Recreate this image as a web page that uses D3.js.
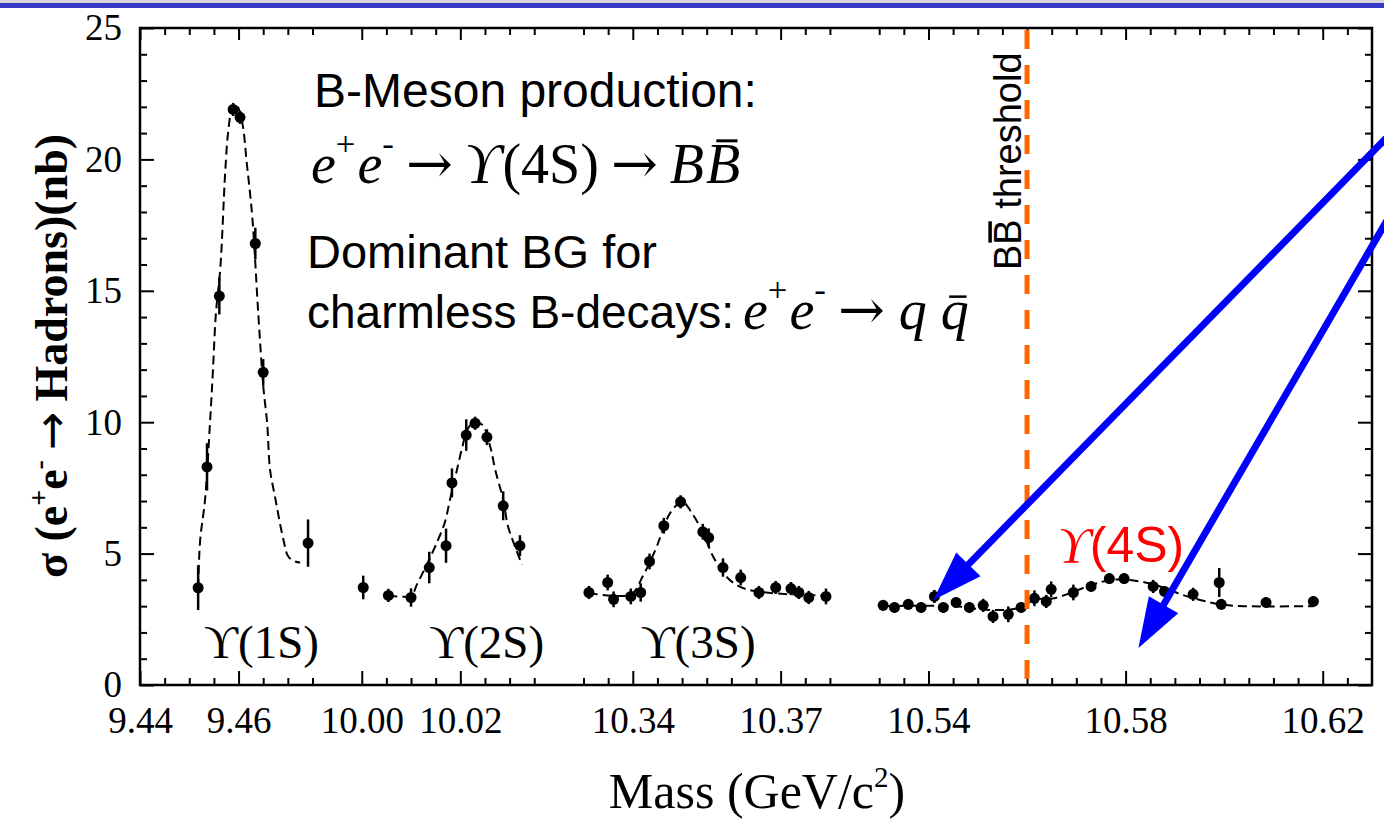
<!DOCTYPE html>
<html>
<head>
<meta charset="utf-8">
<script src="https://cdn.jsdelivr.net/npm/d3@7"></script>
<style>
  body { margin: 0; background: #fff; }
  svg { display: block; }
</style>
</head>
<body>
<svg id="chart"></svg>
<script>
// broken mass axis: each piece is [from, to] in GeV/c^2
const segments = [[9.44, 9.48], [9.995, 10.04], [10.325, 10.385], [10.525, 10.63]];
const massTickStep = 0.005;
const massLabels = [9.44, 9.46, 10.00, 10.02, 10.34, 10.37, 10.54, 10.58, 10.62];
const sigmaLabels = [0, 5, 10, 15, 20, 25];
const thresholdMass = 10.56;

// Upsilon(1S)
const mass1S = [9.4518, 9.4536, 9.4561, 9.4589, 9.4603, 9.4634, 9.4650, 9.4741];
const sigma1S = [3.7, 8.3, 14.8, 21.9, 21.6, 16.8, 11.9, 5.4];
const err1S = [0.85, 0.9, 0.7, 0.25, 0.25, 0.6, 0.5, 0.9];
const fitMass1S = [9.4518, 9.4522, 9.4532, 9.4542, 9.4548, 9.4554, 9.4563, 9.4573, 9.4579, 9.4587, 9.4595,
  9.4607, 9.4617, 9.4628, 9.4640, 9.4650, 9.4658, 9.4664, 9.4674, 9.4691, 9.4701, 9.4715, 9.4725];
const fitSigma1S = [3.7, 5.5, 7.05, 9.96, 11.97, 14.13, 15.87, 19.55, 21.06, 21.93, 22.1,
  21.44, 19.8, 17.77, 14.13, 11.4, 9.96, 8.18, 7.16, 5.53, 4.89, 4.70, 4.66];

// Upsilon(2S)
const mass2S = [10.0003, 10.0054, 10.0100, 10.0137, 10.0171, 10.0183, 10.0212, 10.0230, 10.0254, 10.0287, 10.0321];
const sigma2S = [3.71, 3.41, 3.33, 4.47, 5.30, 7.69, 9.51, 9.96, 9.43, 6.82, 5.30];
const err2S = [0.45, 0.25, 0.35, 0.6, 0.65, 0.55, 0.6, 0.25, 0.3, 0.55, 0.4];
const fitMass2S = [10.0054, 10.0100, 10.0112, 10.0135, 10.0155, 10.0169, 10.0179, 10.0194, 10.0204,
  10.0214, 10.0227, 10.0245, 10.0261, 10.0271, 10.0287, 10.0297, 10.0311, 10.0325];
const fitSigma2S = [3.41, 3.40, 3.83, 4.70, 5.53, 6.21, 7.05, 8.26, 9.05, 9.70, 10.0, 9.89, 9.05, 8.18,
  7.05, 6.02, 5.27, 4.58];

// Upsilon(3S)
const mass3S = [10.3311, 10.3349, 10.3361, 10.3396, 10.3416, 10.3434, 10.3463, 10.3497, 10.3542, 10.3554,
  10.3583, 10.3619, 10.3656, 10.3690, 10.3721, 10.3737, 10.3757, 10.3792];
const sigma3S = [3.52, 3.90, 3.26, 3.37, 3.52, 4.70, 6.06, 6.97, 5.83, 5.61, 4.47, 4.09, 3.52, 3.71, 3.67,
  3.52, 3.33, 3.37];
const err3S = [0.25, 0.3, 0.3, 0.3, 0.35, 0.3, 0.3, 0.25, 0.3, 0.35, 0.35, 0.3, 0.25, 0.25, 0.25, 0.25, 0.25, 0.3];
const fitMass3S = [10.3311, 10.3396, 10.3420, 10.3446, 10.3456, 10.3476, 10.3500, 10.3522, 10.3542,
  10.3563, 10.3583, 10.3603, 10.3631, 10.3680, 10.3792];
const fitSigma3S = [3.50, 3.45, 4.13, 5.15, 5.64, 6.55, 6.97, 6.48, 5.80, 4.89, 4.28, 3.90, 3.64, 3.50, 3.40];

// Upsilon(4S) region
const mass4S = [10.5308, 10.5331, 10.5359, 10.5385, 10.5412, 10.5430, 10.5456, 10.5483, 10.5511, 10.5531,
  10.5562, 10.5588, 10.5615, 10.5639, 10.5649, 10.5694, 10.5730, 10.5767, 10.5797, 10.5856, 10.5879,
  10.5937, 10.5990, 10.5994, 10.6085, 10.6181];
const sigma4S = [3.03, 2.95, 3.07, 2.95, 3.37, 2.95, 3.14, 2.95, 3.03, 2.61, 2.69, 2.95, 3.30, 3.18, 3.64,
  3.52, 3.75, 4.05, 4.05, 3.75, 3.56, 3.45, 3.90, 3.07, 3.14, 3.18];
const err4S = [0.2, 0.2, 0.2, 0.2, 0.25, 0.2, 0.2, 0.2, 0.25, 0.25, 0.3, 0.2, 0.3, 0.25, 0.3, 0.3, 0.2,
  0.2, 0.2, 0.25, 0.2, 0.25, 0.55, 0.2, 0.2, 0.2];
const fitMass4S = [10.5308, 10.5450, 10.5531, 10.5588, 10.5615, 10.5655, 10.5730, 10.5770, 10.5806,
  10.5840, 10.5870, 10.5920, 10.5970, 10.6000, 10.6040, 10.6181];
const fitSigma4S = [3.00, 3.00, 2.85, 2.95, 3.25, 3.30, 3.80, 4.00, 4.00, 3.90, 3.75, 3.40, 3.15, 3.05,
  3.00, 3.00];

const W = 1384, H = 822;
const plot = { left: 140, right: 1372, top: 28, bottom: 685 };

const svg = d3.select('#chart').attr('width', W).attr('height', H);

// header strip
svg.append('rect').attr('x', 0).attr('y', 0).attr('width', W).attr('height', 3).attr('fill', '#d6d6d6');
svg.append('rect').attr('x', 0).attr('y', 3).attr('width', W).attr('height', 5).attr('fill', '#3a3ac8');

// one linear scale per axis piece, widths proportional to the mass span
const totalSpan = d3.sum(segments, s => s[1] - s[0]);
let cursor = plot.left;
const segScales = segments.map(([a, b]) => {
  const w = (b - a) / totalSpan * (plot.right - plot.left);
  const s = d3.scaleLinear().domain([a, b]).range([cursor, cursor + w]);
  cursor += w;
  return s;
});
function x(m) {
  const s = segScales.find(sc => m >= sc.domain()[0] - 1e-9 && m <= sc.domain()[1] + 1e-9);
  return s(m);
}
const y = d3.scaleLinear().domain([0, 25]).range([plot.bottom, plot.top]);

const serif = '"Liberation Serif", "DejaVu Serif", serif';
const sans = '"Liberation Sans", Arial, sans-serif';

function styleAxis(g) {
  g.select('.domain').remove();
  g.selectAll('line').attr('stroke', '#000').attr('stroke-width', 2);
  g.selectAll('text').attr('fill', '#000').style('font-family', serif).style('font-size', '37px');
}

// mass axis ticks, bottom and top
segScales.forEach(s => {
  const [a, b] = s.domain();
  const inner = d3.range(Math.round(a / massTickStep) + 1, Math.round(b / massTickStep))
    .map(k => +(k * massTickStep).toFixed(3));
  const majors = massLabels.filter(m => m >= a - 1e-9 && m < b);
  const minors = inner.filter(v => !majors.some(m => Math.abs(m - v) < 1e-6));

  svg.append('g').attr('transform', `translate(0,${plot.bottom})`)
    .call(d3.axisBottom(s).tickValues(majors).tickSizeInner(-14).tickSizeOuter(0).tickPadding(22)
      .tickFormat(d3.format('.2f')))
    .call(styleAxis);
  svg.append('g').attr('transform', `translate(0,${plot.bottom})`)
    .call(d3.axisBottom(s).tickValues(minors).tickSizeInner(-7).tickSizeOuter(0).tickFormat(''))
    .call(styleAxis);
  svg.append('g').attr('transform', `translate(0,${plot.top})`)
    .call(d3.axisTop(s).tickValues(majors).tickSizeInner(-12).tickSizeOuter(0).tickFormat(''))
    .call(styleAxis);
  svg.append('g').attr('transform', `translate(0,${plot.top})`)
    .call(d3.axisTop(s).tickValues(minors).tickSizeInner(-7).tickSizeOuter(0).tickFormat(''))
    .call(styleAxis);
});

// cross-section axis ticks, left and right
const sigmaMinor = d3.range(0, 26).filter(v => v % 5 !== 0);
svg.append('g').attr('transform', `translate(${plot.left},0)`)
  .call(d3.axisLeft(y).tickValues(sigmaLabels).tickSizeInner(-14).tickSizeOuter(0).tickPadding(18))
  .call(styleAxis);
svg.append('g').attr('transform', `translate(${plot.left},0)`)
  .call(d3.axisLeft(y).tickValues(sigmaMinor).tickSizeInner(-7).tickSizeOuter(0).tickFormat(''))
  .call(styleAxis);
svg.append('g').attr('transform', `translate(${plot.right},0)`)
  .call(d3.axisRight(y).tickValues(sigmaLabels).tickSizeInner(-14).tickSizeOuter(0).tickFormat(''))
  .call(styleAxis);
svg.append('g').attr('transform', `translate(${plot.right},0)`)
  .call(d3.axisRight(y).tickValues(sigmaMinor).tickSizeInner(-7).tickSizeOuter(0).tickFormat(''))
  .call(styleAxis);

svg.append('rect')
  .attr('x', plot.left).attr('y', plot.top)
  .attr('width', plot.right - plot.left).attr('height', plot.bottom - plot.top)
  .attr('fill', 'none').attr('stroke', '#000').attr('stroke-width', 2.5);

// fitted line shapes
const fitLine = d3.line().x(d => x(d[0])).y(d => y(d[1])).curve(d3.curveCatmullRom);
[[fitMass1S, fitSigma1S], [fitMass2S, fitSigma2S], [fitMass3S, fitSigma3S], [fitMass4S, fitSigma4S]]
  .forEach(([ms, ss]) => {
    svg.append('path')
      .datum(ms.map((m, i) => [m, ss[i]]))
      .attr('d', fitLine)
      .attr('fill', 'none').attr('stroke', '#000').attr('stroke-width', 2)
      .attr('stroke-dasharray', '9,5');
  });

// measured points with error bars
const measured = [[mass1S, sigma1S, err1S], [mass2S, sigma2S, err2S], [mass3S, sigma3S, err3S], [mass4S, sigma4S, err4S]];
measured.forEach(([ms, ss, es]) => {
  const pts = ms.map((m, i) => ({ m, s: ss[i], e: es[i] }));
  const g = svg.append('g');
  g.selectAll('line').data(pts).join('line')
    .attr('x1', d => x(d.m)).attr('x2', d => x(d.m))
    .attr('y1', d => y(d.s - d.e)).attr('y2', d => y(d.s + d.e))
    .attr('stroke', '#000').attr('stroke-width', 2.5);
  g.selectAll('circle').data(pts).join('circle')
    .attr('cx', d => x(d.m)).attr('cy', d => y(d.s)).attr('r', 5.5)
    .attr('fill', '#000');
});

// resonance names
[['ϒ(1S)', 9.4530], ['ϒ(2S)', 10.0137], ['ϒ(3S)', 10.3416]].forEach(([t, m]) => {
  svg.append('text').attr('x', x(m)).attr('y', 658)
    .style('font-family', serif).style('font-size', '47px').attr('fill', '#000').text(t);
});

// threshold marker
const xThr = x(thresholdMass);
svg.append('line')
  .attr('x1', xThr).attr('x2', xThr).attr('y1', plot.top + 2).attr('y2', plot.bottom + 4)
  .attr('stroke', '#ff6600').attr('stroke-width', 5).attr('stroke-dasharray', '19,16');

const thr = svg.append('g').attr('transform', `translate(${xThr - 6},270) rotate(-90)`);
const thrText = thr.append('text')
  .style('font-family', sans).style('font-size', '38px').attr('fill', '#000').text('BB threshold');
const barB = thrText.node().getExtentOfChar(1);
thr.append('rect').attr('x', barB.x + 2).attr('y', -38 * 0.86)
  .attr('width', barB.width - 4).attr('height', 3.5).attr('fill', '#000');

// math helper: pieces of [text, italic, superscript, gap before, font family]
function formula(xPos, yPos, size, pieces) {
  const t = svg.append('text').attr('x', xPos).attr('y', yPos)
    .style('font-family', serif).style('font-size', size + 'px').attr('fill', '#000');
  const lift = size * 0.5;
  let raised = false;
  pieces.forEach(([txt, ital, sup, gap, fam]) => {
    const sp = t.append('tspan').text(txt);
    if (ital) sp.style('font-style', 'italic');
    if (fam) sp.style('font-family', fam);
    let dy = 0;
    if (sup && !raised) { dy = -lift; raised = true; }
    if (!sup && raised) { dy = lift; raised = false; }
    if (dy) sp.attr('dy', dy);
    if (sup) sp.style('font-size', (size * 0.62) + 'px');
    if (gap) sp.attr('dx', gap);
  });
  return t;
}
// bar over one glyph, placed a given fraction of the font size above the baseline
function overbar(t, idx, baseY, size, heightEm, thick) {
  const e = t.node().getExtentOfChar(idx);
  svg.append('rect').attr('x', e.x + e.width * 0.3).attr('y', baseY - size * heightEm)
    .attr('width', e.width * 0.62).attr('height', thick).attr('fill', '#000');
}
const arrowFont = '"DejaVu Serif", serif';

svg.append('text').attr('x', 314).attr('y', 107)
  .style('font-family', sans).style('font-size', '48px').attr('fill', '#000').text('B-Meson production:');

const eq1 = formula(311, 183, 56, [
  ['e', true], ['+', false, true], ['e', true, false, 2], ['-', false, true],
  ['→', false, false, 12, arrowFont], ['ϒ', true, false, 12], ['(4S)', false, false, 2],
  ['→', false, false, 12, arrowFont], ['B', true, false, 12], ['B', true, false, 2]
]);
overbar(eq1, eq1.text().length - 1, 183, 56, 0.78, 3);

svg.append('text').attr('x', 307).attr('y', 268)
  .style('font-family', sans).style('font-size', '47px').attr('fill', '#000').text('Dominant BG for');
svg.append('text').attr('x', 307).attr('y', 328)
  .style('font-family', sans).style('font-size', '46px').attr('fill', '#000').text('charmless B-decays:');

const eq2 = formula(743, 329, 56, [
  ['e', true], ['+', false, true], ['e', true, false, 2], ['-', false, true],
  ['→', false, false, 12, arrowFont], ['q', true, false, 14], ['q', true, false, 14]
]);
overbar(eq2, eq2.text().length - 1, 329, 56, 0.6, 2.5);

// Upsilon(4S) tag
const tag = svg.append('text').attr('x', 1058).attr('y', 562).attr('fill', '#ff0000')
  .style('font-size', '50px');
tag.append('tspan').style('font-family', serif).style('font-style', 'italic').text('ϒ');
tag.append('tspan').style('font-family', sans).text('(4S)');

// pointer arrows
const arrows = [
  { mass: 10.541, sigma: 3.23, tailX: 1400, tailY: 124 },
  { mass: 10.5826, sigma: 1.41, tailX: 1400, tailY: 198 }
];
arrows.forEach(a => {
  const tx = x(a.mass), ty = y(a.sigma);
  const dx = a.tailX - tx, dy = a.tailY - ty, len = Math.hypot(dx, dy);
  const ux = dx / len, uy = dy / len;
  const headLen = 50, headHalf = 17;
  const bx = tx + ux * headLen, by = ty + uy * headLen;
  svg.append('line').attr('x1', a.tailX).attr('y1', a.tailY).attr('x2', bx - ux * 2).attr('y2', by - uy * 2)
    .attr('stroke', '#0000ff').attr('stroke-width', 7);
  svg.append('path')
    .attr('d', `M${tx},${ty}L${bx - uy * headHalf},${by + ux * headHalf}L${bx + uy * headHalf},${by - ux * headHalf}Z`)
    .attr('fill', '#0000ff');
});

// axis titles
svg.append('text').attr('x', 757).attr('y', 808).attr('text-anchor', 'middle')
  .style('font-family', serif).style('font-size', '50px').attr('fill', '#000')
  .call(t => {
    t.append('tspan').text('Mass (GeV/c');
    t.append('tspan').attr('dy', -21).style('font-size', '29px').text('2');
    t.append('tspan').attr('dy', 21).text(')');
  });

svg.append('text').attr('transform', 'translate(67,356) rotate(-90)').attr('text-anchor', 'middle')
  .style('font-family', serif).style('font-size', '46px').style('font-weight', 'bold').attr('fill', '#000')
  .call(t => {
    t.append('tspan').text('σ (e');
    t.append('tspan').attr('dy', -19).style('font-size', '28px').text('+');
    t.append('tspan').attr('dy', 19).text('e');
    t.append('tspan').attr('dy', -19).style('font-size', '28px').text('-');
    t.append('tspan').attr('dx', 10).attr('dy', 19).style('font-family', '"DejaVu Sans", sans-serif')
      .style('font-weight', 'normal').text('→');
    t.append('tspan').attr('dx', 10).text('Hadrons)(nb)');
  });
</script>
</body>
</html>
